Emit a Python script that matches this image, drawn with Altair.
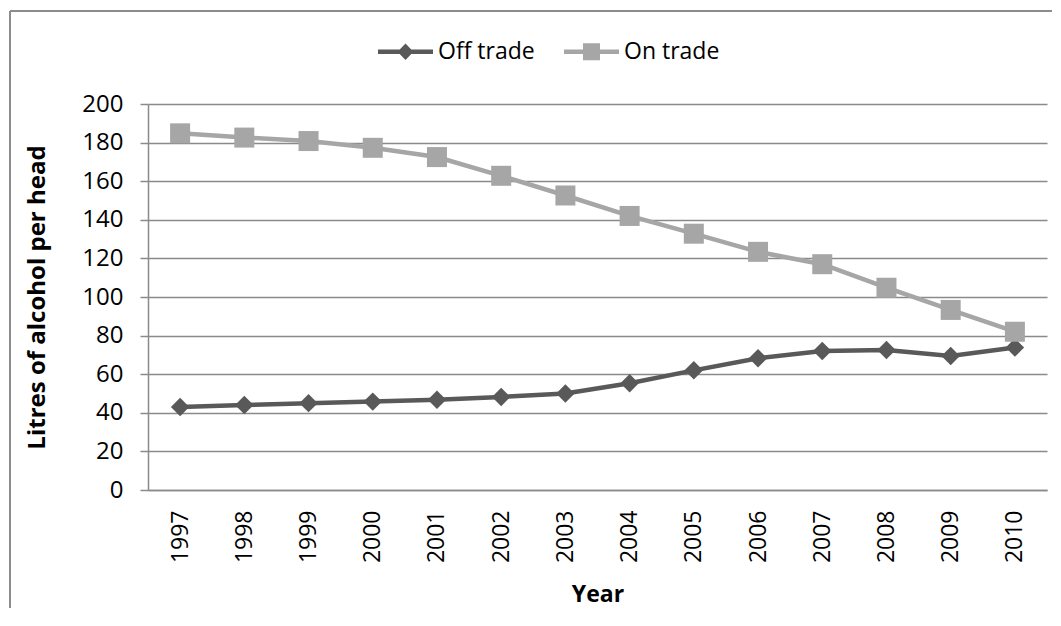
import altair as alt
import pandas as pd

years = ["1997", "1998", "1999", "2000", "2001", "2002", "2003",
         "2004", "2005", "2006", "2007", "2008", "2009", "2010"]
off_trade = [43.0, 44.0, 45.0, 45.8, 46.8, 48.2, 50.0, 55.3, 62.0, 68.3, 72.0, 72.5, 69.4, 73.8]
on_trade = [184.8, 182.6, 180.8, 177.3, 172.5, 162.8, 152.6, 142.0, 132.8, 123.4, 117.0, 104.8, 93.3, 82.0]
series_names = ["Off trade", "On trade"]
series_colors = ["#595959", "#A6A6A6"]
series_shapes = ["diamond", "square"]
series_sizes = [340, 400]
y_ticks = [0, 20, 40, 60, 80, 100, 120, 140, 160, 180, 200]

rows = []
for name, vals in zip(series_names, [off_trade, on_trade]):
    for yr, v in zip(years, vals):
        rows.append({"Year": yr, "Series": name, "Value": v})
df = pd.DataFrame(rows)

FONT = "Open Sans"
GRID = "#8A8A8A"

color_scale = alt.Scale(domain=series_names, range=series_colors)

x_enc = alt.X("Year:O", sort=years,
              axis=alt.Axis(title="Year", labelAngle=270, ticks=False, tickSize=0,
                            labelPadding=20, labelFontSize=23, labelFont=FONT,
                            labelColor="#000000", titleFont=FONT, titleFontSize=23,
                            titleFontWeight="bold", titleColor="#000000",
                            titleY=104, titleBaseline="middle",
                            domainColor=GRID, domainWidth=1.5, grid=False))
y_enc = alt.Y("Value:Q", scale=alt.Scale(domain=[0, 200], nice=False),
              axis=alt.Axis(title="Litres of  alcohol per head", values=y_ticks,
                            tickSize=8, tickColor=GRID, tickWidth=1.5,
                            labelPadding=17, labelFontSize=24, labelFont=FONT,
                            labelColor="#000000", titleFont=FONT, titleFontSize=24,
                            titleFontWeight="bold", titleColor="#000000",
                            titleAngle=270, titleX=-111, titleY=193,
                            titleAlign="center", titleBaseline="middle",
                            domainColor=GRID, domainWidth=1.5,
                            grid=True, gridColor=GRID, gridWidth=1.5))

base = alt.Chart(df)

series_layers = []
for name, col in zip(series_names, series_colors):
    series_layers.append(
        base.transform_filter(alt.datum.Series == name)
        .mark_line(strokeWidth=4.5, color=col)
        .encode(x=x_enc, y=y_enc)
    )
for name, col, shp, sz in zip(series_names, series_colors, series_shapes, series_sizes):
    series_layers.append(
        base.transform_filter(alt.datum.Series == name)
        .mark_point(shape=shp, filled=True, size=sz, opacity=1, color=col)
        .encode(x=x_enc, y=y_enc)
    )

off_path = "M-1,-0.08L1,-0.08L1,0.08L-1,0.08Z M-0.29,0L0,-0.3L0.29,0L0,0.3Z"
on_path = "M-1,-0.08L1,-0.08L1,0.08L-1,0.08Z M-0.31,-0.31L0.31,-0.31L0.31,0.31L-0.31,0.31Z"

legend_def = alt.Legend(title=None, orient="none", direction="horizontal",
                        legendX=230, legendY=-80, padding=0,
                        symbolSize=3025, symbolStrokeWidth=0, symbolOpacity=1,
                        labelFont=FONT, labelFontSize=23, labelColor="#000000",
                        labelOffset=5, columnPadding=29)

helper = base.mark_point(filled=True, size=3025, opacity=0).encode(
    x=x_enc, y=y_enc,
    color=alt.Color("Series:N", scale=color_scale, legend=legend_def),
    shape=alt.Shape("Series:N", scale=alt.Scale(domain=series_names, range=[off_path, on_path]),
                    legend=legend_def),
)

frame_df = pd.DataFrame({"k": [0]})
top_border = alt.Chart(frame_df).mark_rule(color="#8C8C8C", strokeWidth=2).encode(
    x=alt.value(-138), x2=alt.value(1000), y=alt.value(-93))
left_border = alt.Chart(frame_df).mark_rule(color="#8C8C8C", strokeWidth=2).encode(
    x=alt.value(-138), y=alt.value(-93), y2=alt.value(700))

chart = alt.layer(top_border, left_border, *series_layers, helper).properties(
    width=899, height=386,
    autosize=alt.AutoSizeParams(type="none"),
    padding={"left": 140, "top": 96, "right": 5, "bottom": 118},
    background="white",
).configure_view(stroke=None)

chart.save("out.html", embed_options={"renderer": "svg", "actions": False})
